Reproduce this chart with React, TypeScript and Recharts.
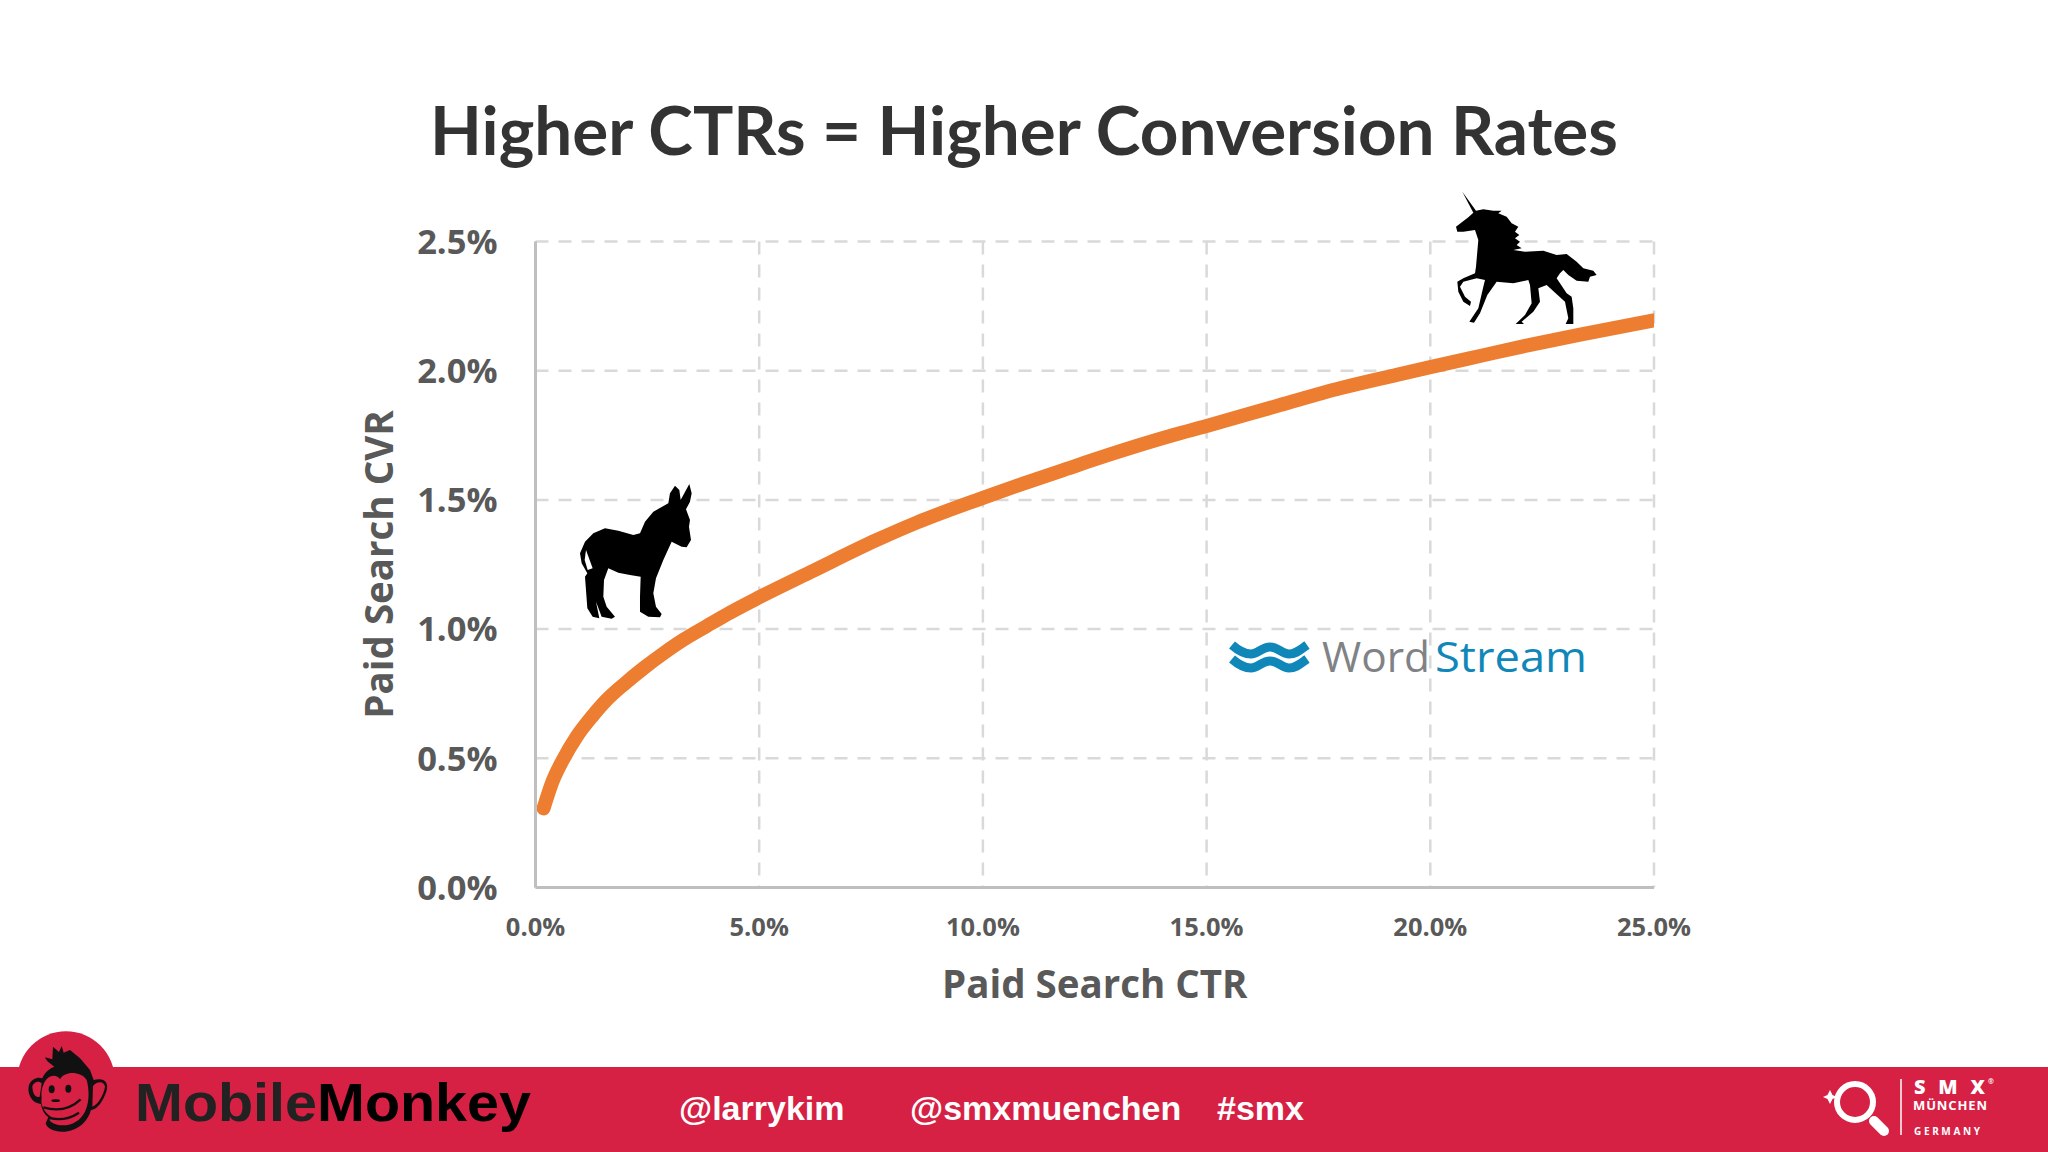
import { CartesianGrid, Label, Line, LineChart, XAxis, YAxis } from "recharts";

// values, both in percent
const ctrValues = [0.18, 0.38, 0.6, 0.92, 1.26, 1.59, 1.96, 2.41, 2.86, 3.3, 3.83, 4.35, 5, 6.21, 7.63, 8.52, 10, 10.9, 11.87, 12.77, 14.26, 15, 16.64, 17.98, 19.25, 20, 21.11, 22.23, 23.35, 25];
const cvrValues = [0.306, 0.41, 0.49, 0.584, 0.661, 0.726, 0.784, 0.848, 0.906, 0.958, 1.012, 1.064, 1.123, 1.226, 1.345, 1.412, 1.508, 1.563, 1.62, 1.672, 1.751, 1.786, 1.867, 1.932, 1.984, 2.014, 2.057, 2.1, 2.14, 2.195];
const xTicks = [0, 5, 10, 15, 20, 25];
const yTicks = [0, 0.5, 1, 1.5, 2, 2.5];

const chartData = ctrValues.map((ctr, i) => ({ ctr, cvr: cvrValues[i] }));
const pct = (v: number) => `${v.toFixed(1)}%`;

const FONT = "'Open Sans', sans-serif";
const RED = "#d62044";

const UNICORN =
  "M187 35 L228 92 L250 88 L280 92 L305 92 L295 100 L320 110 L335 130 L355 140 L345 155 L358 165 L345 175 L360 185 L350 195 L365 205 L340 210 L375 215 L430 212 L470 225 L500 222 L530 245 L550 265 L580 272 L590 285 L570 290 L565 305 L530 302 L505 285 L490 270 L480 280 L470 295 L500 340 L515 350 L520 385 L520 432 L497 432 L505 415 L495 365 L440 315 L415 325 L420 365 L400 395 L365 425 L372 432 L347 432 L375 405 L395 370 L390 315 L385 300 L340 310 L290 305 L262 345 L240 400 L222 428 L208 425 L235 385 L250 320 L255 300 L230 295 L190 305 L180 320 L195 350 L213 365 L210 378 L190 365 L175 335 L172 305 L190 295 L225 280 L228 260 L235 180 L225 150 L190 155 L172 155 L168 140 L205 112 L220 98 Z";
const DONKEY =
  "M375 47 L388 60 L392 90 L418 42 L425 70 L420 95 L408 118 L420 150 L417 170 L423 210 L410 232 L395 230 L365 215 L340 270 L318 325 L310 370 L318 410 L335 432 L330 442 L295 440 L270 425 L270 380 L272 320 L240 315 L205 308 L175 295 L162 330 L160 380 L170 410 L195 440 L185 446 L155 440 L138 395 L148 445 L128 440 L112 415 L105 320 L112 310 L95 280 L90 250 L105 215 L130 190 L165 175 L205 182 L250 195 L270 190 L285 155 L310 125 L355 100 L360 70 Z";
const WAVE = "M1232 645 C1240 652 1245 654 1251 654 C1258 654 1262 647 1270 647 C1278 647 1282 654 1289 654 C1296 654 1300 650 1307 645";
const MONKEY_HEAD =
  "M90 82 L112 88 L114 50 L132 66 L140 48 L146 68 L165 60 L195 85 L225 120 L236 150 C275 140 285 165 270 195 C258 225 240 240 228 240 C220 270 195 300 150 305 C120 308 95 295 92 280 L100 262 C85 250 80 235 78 222 C50 220 35 190 42 165 C50 145 70 140 82 145 C90 125 105 115 118 110 C105 100 95 95 90 82 Z";
const MONKEY_FACE =
  "M85 165 C95 135 125 130 135 148 C145 125 195 120 215 150 C222 175 225 215 210 245 C195 275 165 290 130 285 C110 280 95 270 110 262 C90 250 75 225 80 205 C78 190 80 175 85 165 Z";

function Overlay() {
  return (
    <svg width={2048} height={1152} style={{ position: "absolute", left: 0, top: 0 }}>
      <text x={1024} y={155} textAnchor="middle" fontFamily="Lato, sans-serif" fontWeight={700} fontSize={67.4} fill="#333333">
        Higher CTRs = Higher Conversion Rates
      </text>

      <g transform="translate(1400 180) scale(0.3333)">
        <path d={UNICORN} fill="#000" />
      </g>
      <g transform="translate(550 470) scale(0.3333)">
        <path d={DONKEY} fill="#000" />
        <path d="M108 240 L128 295 L113 300 L104 270 Z" fill="#fff" />
      </g>

      {/* WordStream logo */}
      <g fill="none" stroke="#0f87b8" strokeWidth={9}>
        <path d={WAVE} />
        <path d={WAVE} transform="translate(0 14)" />
      </g>
      <g fontFamily="'Open Sans', sans-serif" fontWeight={500} fontSize={42}>
        <text x={1322} y={672} fill="#808285" textLength={108} lengthAdjust="spacingAndGlyphs">
          Word
        </text>
        <text x={1435} y={672} fill="#0f87b8" textLength={152} lengthAdjust="spacingAndGlyphs">
          Stream
        </text>
      </g>

      {/* footer band */}
      <rect x={0} y={1067} width={2048} height={85} fill={RED} />
      <circle cx={66} cy={1080} r={48.7} fill={RED} />

      {/* monkey */}
      <g transform="translate(15 1030) scale(0.3333)">
        <path d={MONKEY_HEAD} fill="#111" />
        <path d={MONKEY_FACE} fill={RED} />
        <path d="M52 168 C60 152 74 154 80 160 L74 200 C62 205 52 190 52 168 Z" fill={RED} />
        <path d="M234 168 C250 150 268 156 270 170 C266 195 250 222 232 230 Z" fill={RED} />
        <ellipse cx={110} cy={178} rx={9} ry={12} fill="#111" />
        <ellipse cx={160} cy={176} rx={9} ry={12} fill="#111" />
        <ellipse cx={122} cy={212} rx={13} ry={4} fill="#111" />
        <path d="M85 232 Q150 252 197 208" fill="none" stroke="#111" strokeWidth={7} />
        <path d="M102 264 Q150 276 192 248" fill="none" stroke="#111" strokeWidth={7} />
      </g>

      <text x={135} y={1121} fontFamily="'Liberation Sans', sans-serif" fontWeight={700} fontSize={53} textLength={396} lengthAdjust="spacingAndGlyphs">
        <tspan fill="#222222">Mobile</tspan>
        <tspan fill="#000000">Monkey</tspan>
      </text>

      <g fontFamily="'Liberation Sans', sans-serif" fontWeight={700} fontSize={34} fill="#ffffff">
        <text x={679} y={1120}>@larrykim</text>
        <text x={910} y={1120}>@smxmuenchen</text>
        <text x={1217} y={1120}>#smx</text>
      </g>

      {/* SMX logo */}
      <g fill="none" stroke="#fff">
        <circle cx={1855} cy={1102} r={18} strokeWidth={6} />
        <path d="M1874 1121 L1884 1131" strokeWidth={10} strokeLinecap="round" />
        <path d="M1901 1079 V1135" strokeWidth={1.5} />
      </g>
      <path d="M1830 1090 L1832.5 1095 L1837 1097 L1832.5 1099 L1830 1104 L1827.5 1099 L1823 1097 L1827.5 1095 Z" fill="#fff" />
      <g fontFamily="'Open Sans', sans-serif" fontWeight={700} fill="#fff">
        <text x={1914} y={1094} fontSize={20} fontWeight={800} textLength={71}>S M X</text>
        <text x={1988} y={1084} fontSize={7}>®</text>
        <text x={1913} y={1110} fontSize={13} textLength={74}>MÜNCHEN</text>
        <text x={1914} y={1135} fontSize={10} textLength={66}>GERMANY</text>
      </g>
    </svg>
  );
}

export default function App() {
  return (
    <div style={{ position: "absolute", left: 0, top: 0, width: 2048, height: 1152, background: "#fff", overflow: "hidden" }}>
      <div style={{ position: "absolute", left: 0, top: 0 }}>
        <LineChart
          width={2048}
          height={1152}
          data={chartData}
          margin={{ top: 241.5, right: 394, bottom: 164.5, left: 335.5 }}
        >
          <CartesianGrid stroke="#d9d9d9" strokeWidth={2.5} strokeDasharray="13 10" />
          <XAxis
            dataKey="ctr"
            type="number"
            domain={[0, 25]}
            ticks={xTicks}
            tickFormatter={pct}
            allowDataOverflow
            height={100}
            stroke="#bfbfbf"
            strokeWidth={3}
            tickLine={false}
            tickMargin={24}
            tick={{ fontFamily: FONT, fontWeight: 700, fontSize: 25.5, fill: "#595959" }}
          >
            <Label
              value="Paid Search CTR"
              position="insideBottom"
              offset={-10}
              style={{ fontFamily: FONT, fontWeight: 700, fontSize: 38.5, fill: "#595959" }}
            />
          </XAxis>
          <YAxis
            type="number"
            domain={[0, 2.5]}
            ticks={yTicks}
            tickFormatter={pct}
            allowDataOverflow
            width={200}
            stroke="#bfbfbf"
            strokeWidth={3}
            tickLine={false}
            tickMargin={32}
            tick={{ fontFamily: FONT, fontWeight: 700, fontSize: 34.5, fill: "#595959" }}
          >
            <Label
              value="Paid Search CVR"
              angle={-90}
              position="insideLeft"
              offset={44}
              style={{ textAnchor: "middle", fontFamily: FONT, fontWeight: 700, fontSize: 38.5, fill: "#595959" }}
            />
          </YAxis>
          <Line
            dataKey="cvr"
            type="monotone"
            stroke="#ed7d31"
            strokeWidth={14}
            strokeLinecap="round"
            dot={false}
            activeDot={false}
            isAnimationActive={false}
          />
        </LineChart>
      </div>
      <Overlay />
    </div>
  );
}
